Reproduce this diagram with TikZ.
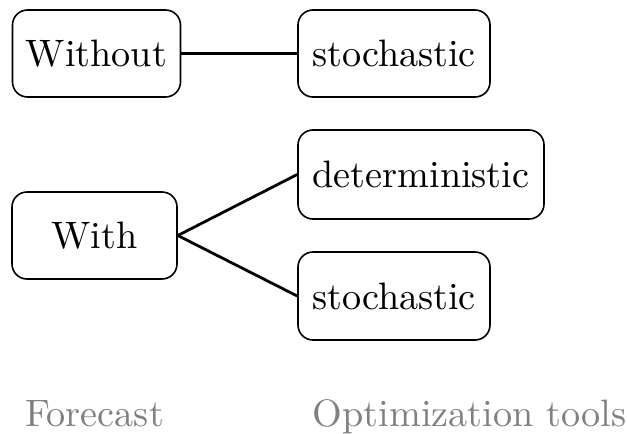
\documentclass[tikz,border=0pt]{standalone}
\usepackage{graphicx}
\newcommand\bigtxt[1]{\scalebox{1.91}{#1}}
\begin{document}
\begin{tikzpicture}[x=0.5pt,y=-0.5pt,
  box/.style={draw, line width=0.8pt, rounded corners=7.5pt, inner sep=0pt,
    font=\fontsize{10}{12}\selectfont},
  conn/.style={line width=1.4pt},
  lbl/.style={text=black!50, font=\fontsize{10}{12}\selectfont, inner sep=0pt, anchor=base}]
\useasboundingbox (0,0) rectangle (627,434);
\node[box, minimum width=84pt, minimum height=43.5pt] (without) at (96.5,53.5) {\bigtxt{Without}};
\node[box, minimum width=96pt, minimum height=43.5pt] (stoch1) at (394,53.5) {\bigtxt{stochastic}};
\node[box, minimum width=82.5pt, minimum height=43.5pt] (with) at (94.5,235.5) {\bigtxt{With}};
\node[box, minimum width=123pt, minimum height=44.5pt] (det) at (421,174.5) {\bigtxt{deterministic}};
\node[box, minimum width=96pt, minimum height=44pt] (stoch2) at (394,296) {\bigtxt{stochastic}};
\draw[conn] (without.east) -- (stoch1.west);
\draw[conn] (with.east) -- (det.west);
\draw[conn] (with.east) -- (stoch2.west);
\node[lbl] (fc) at (94.5,426) {\bigtxt{Forecast}};
\node[lbl] (ot) at (469.5,426) {\bigtxt{Optimization tools}};
\end{tikzpicture}
\end{document}
